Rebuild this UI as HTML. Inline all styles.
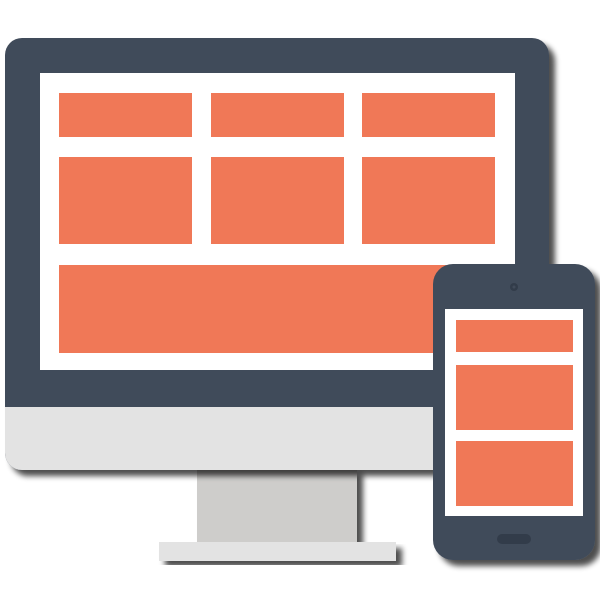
<!DOCTYPE html>
<html><head><meta charset="utf-8"><style>
html,body{margin:0;padding:0;background:#fff;width:600px;height:600px;overflow:hidden}
</style></head><body>
<svg width="600" height="600" viewBox="0 0 600 600" xmlns="http://www.w3.org/2000/svg">
<defs>
<filter id="sh" x="-20%" y="-20%" width="140%" height="140%">
<feGaussianBlur in="SourceAlpha" stdDeviation="3"/>
<feOffset dx="6" dy="6" result="b"/>
<feComponentTransfer><feFuncA type="linear" slope="0.7"/></feComponentTransfer>
<feMerge><feMergeNode/><feMergeNode in="SourceGraphic"/></feMerge>
</filter>
<clipPath id="mon"><rect x="5" y="38" width="544" height="432" rx="17"/></clipPath>
</defs>
<!-- stand -->
<rect x="197" y="468" width="160" height="74" fill="#cecdcb" filter="url(#sh)"/>
<rect x="159" y="542" width="237" height="19" fill="#e3e3e3" filter="url(#sh)"/>
<!-- monitor -->
<g filter="url(#sh)">
<g clip-path="url(#mon)">
<rect x="5" y="38" width="544" height="432" fill="#414b5a"/>
<rect x="5" y="407" width="544" height="63" fill="#e3e3e3"/>
</g>
</g>
<rect x="40" y="73" width="475" height="297" fill="#fff"/>
<g fill="#f07857">
<rect x="59" y="93" width="133" height="44"/>
<rect x="211" y="93" width="133" height="44"/>
<rect x="362" y="93" width="133" height="44"/>
<rect x="59" y="157" width="133" height="87"/>
<rect x="211" y="157" width="133" height="87"/>
<rect x="362" y="157" width="133" height="87"/>
<rect x="59" y="265" width="436" height="88"/>
</g>
<!-- phone -->
<rect x="433" y="264" width="162" height="296" rx="20" fill="#414b5a" filter="url(#sh)"/>
<circle cx="514" cy="287" r="4" fill="#323c4a"/>
<circle cx="514" cy="287" r="1.5" fill="#414b5a"/>
<rect x="445" y="309" width="138" height="207" fill="#fff"/>
<g fill="#f07857">
<rect x="456" y="320" width="117" height="32"/>
<rect x="456" y="365" width="117" height="65"/>
<rect x="456" y="441" width="117" height="65"/>
</g>
<rect x="497" y="534" width="34" height="10" rx="5" fill="#323c4a"/>
</svg>
</body></html>
